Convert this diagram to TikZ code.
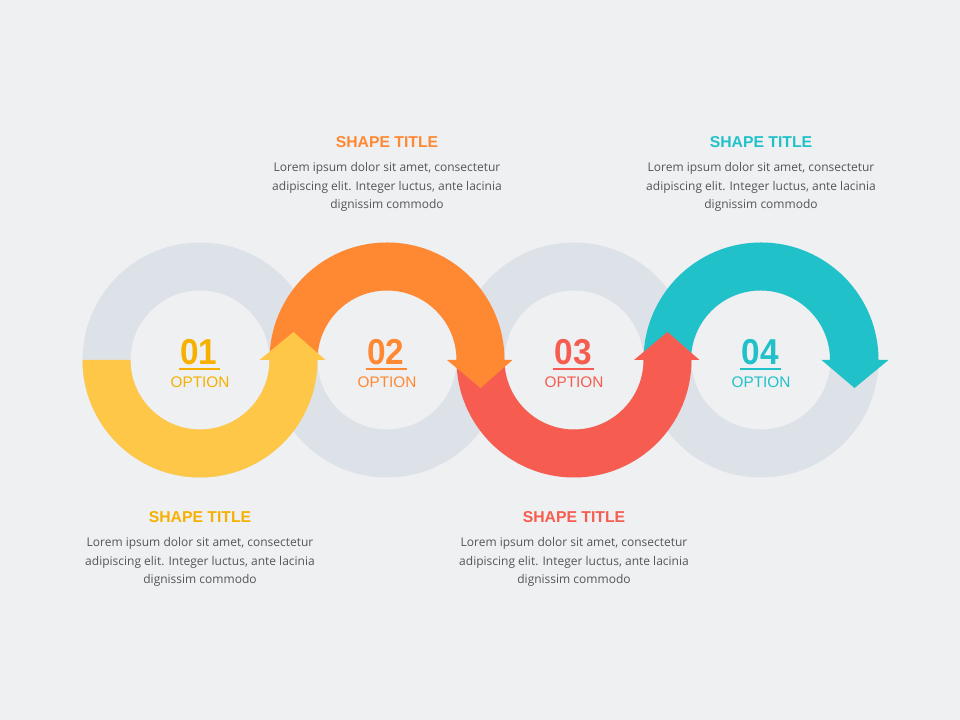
\documentclass[tikz,border=0pt]{standalone}
\usepackage{fontspec}
\setmainfont{Liberation Sans}
\newfontfamily\bodyfont{Open Sans}
\usepackage{xcolor}
\usepackage{tikz}
\usetikzlibrary{positioning, calc}

\definecolor{bgcol}{HTML}{EFF0F2}
\definecolor{ringcol}{HTML}{DDE1E8}
\definecolor{yelcol}{HTML}{FFC748}
\definecolor{yeltxt}{HTML}{F6B000}
\definecolor{orgcol}{HTML}{FF8833}
\definecolor{redcol}{HTML}{F65D50}
\definecolor{tealcol}{HTML}{20C1C9}
\definecolor{bodycol}{HTML}{555555}

\tikzset{
	numtext/.style={font=\fontsize{25}{25}\selectfont\bfseries, inner sep=0pt, yscale=1.08},
	opttext/.style={font=\fontsize{11.5}{12}\selectfont, inner sep=0pt},
	titletext/.style={font=\fontsize{11.8}{12}\selectfont\bfseries, inner sep=0pt},
	bodytext/.style={font=\bodyfont\fontsize{9}{13.9}\selectfont, text=bodycol, align=center, inner sep=0pt}
}

\begin{document}
\begin{tikzpicture}[x=0.75pt, y=0.75pt]
				\fill [bgcol] (0,0) rectangle (960,720);
				
				% grey rings
				\foreach \cx in {200, 387, 574, 761}
					\fill [ringcol, even odd rule] (\cx,360) circle (117.5) (\cx,360) circle (69.5);
				
				% teal arc, over the top, head down
				\fill [tealcol] (643.5,360) arc (180:0:117.5) -- ++(10,0) -- (854.5,332) -- (821.5,360) -- ++(8.5,0) arc (0:180:69.5) -- cycle;
				% red arc, under, head up
				\fill [redcol] (456.5,360) arc (180:360:117.5) -- ++(8,0) -- (667.5,388) -- (634,360) -- ++(9.5,0) arc (360:180:69.5) -- cycle;
				% orange arc, over the top, head down
				\fill [orgcol] (269.5,360) arc (180:0:117.5) -- ++(8,0) -- (480.5,332) -- (447,360) -- ++(9.5,0) arc (0:180:69.5) -- cycle;
				% yellow arc, under, head up
				\fill [yelcol] (82.5,360) arc (180:360:117.5) -- ++(8,0) -- (293.5,388) -- (259.5,360) -- ++(10,0) arc (360:180:69.5) -- cycle;
				
				% numbers
				\node [numtext, text=yeltxt] (num1) at (199,368) {01};
				\node [numtext, text=orgcol] (num2) at (386,368) {02};
				\node [numtext, text=redcol] (num3) at (573,368) {03};
				\node [numtext, text=tealcol] (num4) at (760,368) {04};
				\fill [yeltxt] (178.5,350) rectangle (220,352);
				\fill [orgcol] (365.5,350) rectangle (407,352);
				\fill [redcol] (552.5,350) rectangle (594,352);
				\fill [tealcol] (739.5,350) rectangle (781,352);
				\node [opttext, text=yeltxt] (opt1) at (200,338) {OPTION};
				\node [opttext, text=orgcol] (opt2) at (387,338) {OPTION};
				\node [opttext, text=redcol] (opt3) at (574,338) {OPTION};
				\node [opttext, text=tealcol] (opt4) at (761,338) {OPTION};
				
				% texts
				\node [titletext, text=yeltxt] (title1) at (200,203) {SHAPE TITLE};
				\node [bodytext] (body1) at (200,158) {Lorem ipsum dolor sit amet, consectetur\\adipiscing elit. Integer luctus, ante lacinia\\dignissim commodo};
				\node [titletext, text=orgcol] (title2) at (387,578) {SHAPE TITLE};
				\node [bodytext] (body2) at (387,533) {Lorem ipsum dolor sit amet, consectetur\\adipiscing elit. Integer luctus, ante lacinia\\dignissim commodo};
				\node [titletext, text=redcol] (title3) at (574,203) {SHAPE TITLE};
				\node [bodytext] (body3) at (574,158) {Lorem ipsum dolor sit amet, consectetur\\adipiscing elit. Integer luctus, ante lacinia\\dignissim commodo};
				\node [titletext, text=tealcol] (title4) at (761,578) {SHAPE TITLE};
				\node [bodytext] (body4) at (761,533) {Lorem ipsum dolor sit amet, consectetur\\adipiscing elit. Integer luctus, ante lacinia\\dignissim commodo};
\end{tikzpicture}
\end{document}
